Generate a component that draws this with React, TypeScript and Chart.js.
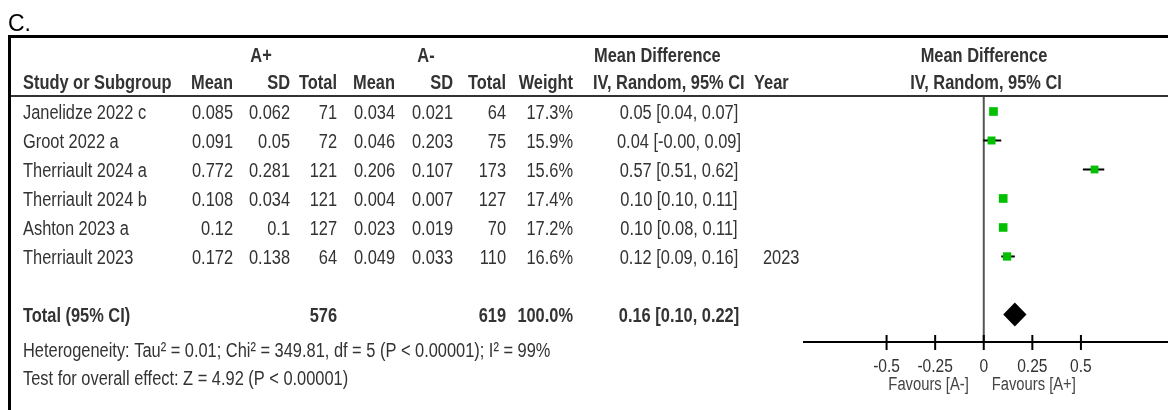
import React, { useEffect, useRef } from "react";
import { Chart, registerables } from "chart.js";

Chart.register(...registerables);

const studies = ["Janelidze 2022 c", "Groot 2022 a", "Therriault 2024 a", "Therriault 2024 b", "Ashton 2023 a", "Therriault 2023"];
const meanPos = [0.085, 0.091, 0.772, 0.108, 0.12, 0.172];
const sdPos = [0.062, 0.05, 0.281, 0.034, 0.1, 0.138];
const totalPos = [71, 72, 121, 121, 127, 64];
const meanNeg = [0.034, 0.046, 0.206, 0.004, 0.023, 0.049];
const sdNeg = [0.021, 0.203, 0.107, 0.007, 0.019, 0.033];
const totalNeg = [64, 75, 173, 127, 70, 110];
const weights = [17.3, 15.9, 15.6, 17.4, 17.2, 16.6];
const meanDiff = [0.05, 0.04, 0.57, 0.10, 0.10, 0.12];
const ciLow = [0.04, -0.002, 0.51, 0.10, 0.08, 0.09];
const ciHigh = [0.07, 0.09, 0.62, 0.11, 0.11, 0.16];
const years = ["", "", "", "", "", "2023"];

const totalLabel = "Total (95% CI)";
const totalPosSum = 576;
const totalNegSum = 619;
const totalWeight = "100.0%";
const pooled = 0.16;
const pooledLow = 0.10;
const pooledHigh = 0.22;
const heterogeneity = "Heterogeneity: Tau\u00B2 = 0.01; Chi\u00B2 = 349.81, df = 5 (P < 0.00001); I\u00B2 = 99%";
const overallEffect = "Test for overall effect: Z = 4.92 (P < 0.00001)";
const tickValues = [-0.5, -0.25, 0, 0.25, 0.5];
const tickLabels = ["-0.5", "-0.25", "0", "0.25", "0.5"];
const favoursLeft = "Favours [A-]";
const favoursRight = "Favours [A+]";

const FONT = "'Liberation Sans', Arial, sans-serif";
const TXT = "#333333";
const SQUEEZE = 0.82;

const f2 = (v: number) => (v < 0 || Object.is(v, -0) ? "-" : "") + Math.abs(v).toFixed(2);
const ciText = (m: number, lo: number, hi: number) => `${f2(m)} [${f2(lo)}, ${f2(hi)}]`;

function drawText(
  ctx: CanvasRenderingContext2D,
  s: string,
  x: number,
  y: number,
  align: CanvasTextAlign,
  bold = false,
  size = 20,
  color = TXT,
  squeeze = SQUEEZE
) {
  ctx.save();
  ctx.font = `${bold ? "bold " : ""}${size}px ${FONT}`;
  ctx.fillStyle = color;
  ctx.textAlign = align;
  ctx.textBaseline = "alphabetic";
  ctx.translate(x, y);
  ctx.scale(squeeze, 1);
  ctx.fillText(s, 0, 0);
  ctx.restore();
}

const forestPlugin = {
  id: "forest",
  beforeDatasetsDraw(chart: any) {
    const ctx = chart.ctx;
    const xs = chart.scales.x;
    const ys = chart.scales.y;
    const ca = chart.chartArea;
    ctx.save();
    const x0 = xs.getPixelForValue(0);
    ctx.strokeStyle = "#555555";
    ctx.lineWidth = 2;
    ctx.beginPath();
    ctx.moveTo(x0, ca.top);
    ctx.lineTo(x0, ca.bottom);
    ctx.stroke();
    ctx.strokeStyle = "#000000";
    ctx.lineWidth = 2;
    ctx.beginPath();
    ctx.moveTo(ca.left, ca.bottom);
    ctx.lineTo(ca.right, ca.bottom);
    ctx.stroke();
    tickValues.forEach((v, i) => {
      const px = xs.getPixelForValue(v);
      ctx.beginPath();
      ctx.moveTo(px, ca.bottom - 7);
      ctx.lineTo(px, ca.bottom + 8);
      ctx.stroke();
      drawText(ctx, tickLabels[i], px, ca.bottom + 30, "center", false, 19);
    });
    drawText(ctx, favoursLeft, x0 - 15, ca.bottom + 48, "right", false, 18, "#444444");
    drawText(ctx, favoursRight, x0 + 8, ca.bottom + 48, "left", false, 18, "#444444");
    ctx.strokeStyle = "#000000";
    ctx.lineWidth = 2;
    meanDiff.forEach((_, i) => {
      const y = ys.getPixelForValue(i);
      ctx.beginPath();
      ctx.moveTo(xs.getPixelForValue(ciLow[i]), y);
      ctx.lineTo(xs.getPixelForValue(ciHigh[i]), y);
      ctx.stroke();
    });
    ctx.restore();
  },
  afterDatasetsDraw(chart: any) {
    const ctx = chart.ctx;
    const xs = chart.scales.x;
    const ys = chart.scales.y;
    const y = ys.getPixelForValue(studies.length + 1);
    ctx.save();
    ctx.fillStyle = "#000000";
    ctx.beginPath();
    ctx.moveTo(xs.getPixelForValue(pooledLow), y);
    ctx.lineTo(xs.getPixelForValue(pooled), y - 12);
    ctx.lineTo(xs.getPixelForValue(pooledHigh), y);
    ctx.lineTo(xs.getPixelForValue(pooled), y + 12);
    ctx.closePath();
    ctx.fill();
    ctx.restore();
  },
  afterDraw(chart: any) {
    const ctx = chart.ctx;
    const ys = chart.scales.y;
    const t = (s: string, x: number, y: number, align: CanvasTextAlign, bold = false) =>
      drawText(ctx, s, x, y, align, bold);
    drawText(ctx, "C.", 8, 31, "left", false, 23, "#000000", 1);
    ctx.save();
    ctx.fillStyle = "#000000";
    ctx.fillRect(8, 35, 1160, 3);
    ctx.fillRect(8, 35, 3, 375);
    ctx.fillStyle = "#333333";
    ctx.fillRect(11, 95, 1157, 2);
    ctx.restore();
    const h1 = 62;
    const h2 = 89;
    t("A+", 261, h1, "center", true);
    t("A-", 426, h1, "center", true);
    t("Mean Difference", 594, h1, "left", true);
    t("Mean Difference", 984, h1, "center", true);
    t("Study or Subgroup", 23, h2, "left", true);
    t("Mean", 233, h2, "right", true);
    t("SD", 290, h2, "right", true);
    t("Total", 337, h2, "right", true);
    t("Mean", 395, h2, "right", true);
    t("SD", 453, h2, "right", true);
    t("Total", 506, h2, "right", true);
    t("Weight", 573, h2, "right", true);
    t("IV, Random, 95% CI", 593, h2, "left", true);
    t("Year", 754, h2, "left", true);
    t("IV, Random, 95% CI", 986, h2, "center", true);
    studies.forEach((s, i) => {
      const y = ys.getPixelForValue(i) + 8;
      t(s, 23, y, "left");
      t(String(meanPos[i]), 233, y, "right");
      t(String(sdPos[i]), 290, y, "right");
      t(String(totalPos[i]), 337, y, "right");
      t(String(meanNeg[i]), 395, y, "right");
      t(String(sdNeg[i]), 453, y, "right");
      t(String(totalNeg[i]), 506, y, "right");
      t(weights[i].toFixed(1) + "%", 573, y, "right");
      t(ciText(meanDiff[i], ciLow[i], ciHigh[i]), 679, y, "center");
      t(years[i], 763, y, "left");
    });
    const ty = ys.getPixelForValue(studies.length + 1) + 8;
    t(totalLabel, 23, ty, "left", true);
    t(String(totalPosSum), 337, ty, "right", true);
    t(String(totalNegSum), 506, ty, "right", true);
    t(totalWeight, 573, ty, "right", true);
    t(ciText(pooled, pooledLow, pooledHigh), 679, ty, "center", true);
    t(heterogeneity, 23, 357, "left");
    t(overallEffect, 23, 385, "left");
  },
};

export default function App() {
  const ref = useRef<HTMLCanvasElement | null>(null);
  useEffect(() => {
    if (!ref.current) return;
    const chart = new Chart(ref.current, {
      type: "scatter",
      data: {
        datasets: [
          {
            data: meanDiff.map((m, i) => ({ x: m, y: i })),
            pointStyle: "rect",
            pointRadius: weights.map((w) => (w * 0.5) / Math.SQRT2),
            backgroundColor: "#00C000",
            borderWidth: 0,
          },
        ],
      },
      options: {
        animation: false,
        responsive: false,
        maintainAspectRatio: false,
        devicePixelRatio: 1,
        layout: { autoPadding: false, padding: { left: 803, right: 0, top: 97, bottom: 68 } },
        plugins: { legend: { display: false }, tooltip: { enabled: false } },
        scales: {
          x: { type: "linear", min: -0.93, max: 0.948, display: false },
          y: { type: "linear", min: -0.5, max: 7.95, reverse: true, display: false },
        },
      },
      plugins: [forestPlugin],
    });
    return () => chart.destroy();
  }, []);
  return (
    <div style={{ position: "fixed", left: 0, top: 0, width: 1168, height: 410, background: "#fff" }}>
      <canvas ref={ref} width={1168} height={410} style={{ width: 1168, height: 410, display: "block" }} />
    </div>
  );
}
